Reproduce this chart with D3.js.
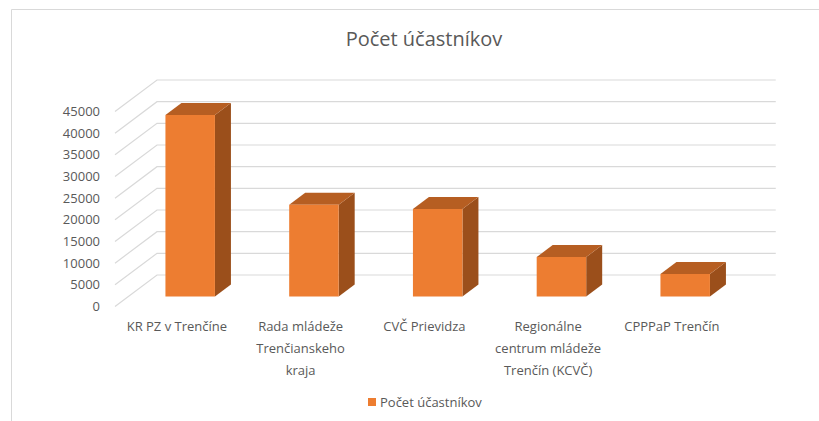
<!DOCTYPE html>
<html>
<head>
<meta charset="utf-8">
<script src="https://cdn.jsdelivr.net/npm/d3@7"></script>
<style>
  body { margin: 0; background: #fff; }
  svg { display: block; font-family: "Open Sans", sans-serif; }
</style>
</head>
<body>
<svg id="chart" width="819" height="421"></svg>
<script>
// data
var categories = ["KR PZ v Trenčíne", "Rada mládeže Trenčianskeho kraja", "CVČ Prievidza",
                  "Regionálne centrum mládeže Trenčín (KCVČ)", "CPPPaP Trenčín"];
var values = [41900, 21200, 20200, 9100, 5200];
var tickValues = [0, 5000, 10000, 15000, 20000, 25000, 30000, 35000, 40000, 45000];
var seriesName = "Počet účastníkov";
var title = "Počet účastníkov";

// 3d look: depth of the floor, as a screen offset
var depthX = 42;
var depthY = 31.5;
var barZ0 = 0.317;
var barZ1 = 0.698;

var svg = d3.select('#chart');

var x = d3.scaleBand()
    .domain(categories)
    .range([115, 733.75])
    .paddingInner(0.6)
    .paddingOuter(0.3);
var y = d3.scaleLinear()
    .domain([0, 45000])
    .range([306.5, 111.5]);

drawChart();

function drawChart(){
    drawFrame();
    drawTitle();
    drawGrid();
    drawBars();
    drawAxisLabels();
    drawCategoryLabels();
    drawLegend();
}

// screen point for (front x, value, depth 0..1)
function proj(px, v, z){
    return [px + z * depthX, y(v) - z * depthY];
}

function drawFrame(){
    svg.append('path')
        .attr('d', 'M11.5,421V9.5H819')
        .style('fill', 'none')
        .style('stroke', '#d9d9d9')
        .attr('stroke-width', 1);
}

function drawTitle(){
    svg.append('text')
        .attr('x', 424)
        .attr('y', 39)
        .attr('dy', '0.35em')
        .attr('text-anchor', 'middle')
        .style('font-size', '20px')
        .style('fill', '#595959')
        .text(title);
}

function drawGrid(){
    var x0 = x.range()[0], x1 = x.range()[1];
    svg.append('g').selectAll('path.grid').data(tickValues).enter()
        .append('path')
        .attr('class', 'grid')
        .attr('d', function(d){
            var a = proj(x0, d, 0), b = proj(x0, d, 1), c = proj(x1, d, 1);
            return 'M' + a + 'L' + b + 'L' + c;
        })
        .style('fill', 'none')
        .style('stroke', '#d9d9d9')
        .attr('stroke-width', 1.2);
}

function drawBars(){
    var g = svg.append('g');
    var bars = g.selectAll('g.bar').data(values).enter()
        .append('g').attr('class', 'bar');

    // side
    bars.append('path')
        .attr('d', function(d, i){
            var l = x(categories[i]) + x.bandwidth();
            return 'M' + proj(l, 0, barZ0) + 'L' + proj(l, d, barZ0) +
                   'L' + proj(l, d, barZ1) + 'L' + proj(l, 0, barZ1) + 'Z';
        })
        .style('fill', '#9b4f1b');
    // top
    bars.append('path')
        .attr('d', function(d, i){
            var l = x(categories[i]), r = l + x.bandwidth();
            return 'M' + proj(l, d, barZ0) + 'L' + proj(r, d, barZ0) +
                   'L' + proj(r, d, barZ1) + 'L' + proj(l, d, barZ1) + 'Z';
        })
        .style('fill', '#b65e22');
    // front
    bars.append('path')
        .attr('d', function(d, i){
            var l = x(categories[i]), r = l + x.bandwidth();
            return 'M' + proj(l, 0, barZ0) + 'L' + proj(r, 0, barZ0) +
                   'L' + proj(r, d, barZ0) + 'L' + proj(l, d, barZ0) + 'Z';
        })
        .style('fill', '#ed7d31');
}

function drawAxisLabels(){
    svg.append('g').selectAll('text').data(tickValues).enter()
        .append('text')
        .attr('x', 100)
        .attr('y', function(d){ return y(d); })
        .attr('dy', '0.35em')
        .attr('text-anchor', 'end')
        .style('font-size', '13px')
        .style('fill', '#595959')
        .text(function(d){ return d; });
}

function drawCategoryLabels(){
    var maxW = 115;
    var g = svg.append('g');
    categories.forEach(function(c){
        var cx = x(c) + x.bandwidth() / 2;
        var t = g.append('text')
            .attr('text-anchor', 'middle')
            .style('font-size', '13px')
            .style('fill', '#595959');
        // wrap words
        var words = c.split(' ');
        var lines = [];
        var line = [];
        words.forEach(function(w){
            line.push(w);
            var probe = t.text(line.join(' '));
            if (probe.node().getComputedTextLength() > maxW && line.length > 1) {
                line.pop();
                lines.push(line.join(' '));
                line = [w];
            }
        });
        lines.push(line.join(' '));
        t.text(null);
        lines.forEach(function(l, k){
            t.append('tspan')
                .attr('x', cx)
                .attr('y', 326.7 + k * 21.7)
                .attr('dy', '0.35em')
                .text(l);
        });
    });
}

function drawLegend(){
    var g = svg.append('g');
    g.append('rect')
        .attr('x', 368)
        .attr('y', 398)
        .attr('width', 8)
        .attr('height', 8)
        .style('fill', '#ed7d31');
    g.append('text')
        .attr('x', 380)
        .attr('y', 402)
        .attr('dy', '0.35em')
        .style('font-size', '13px')
        .style('fill', '#595959')
        .text(seriesName);
}
</script>
</body>
</html>
